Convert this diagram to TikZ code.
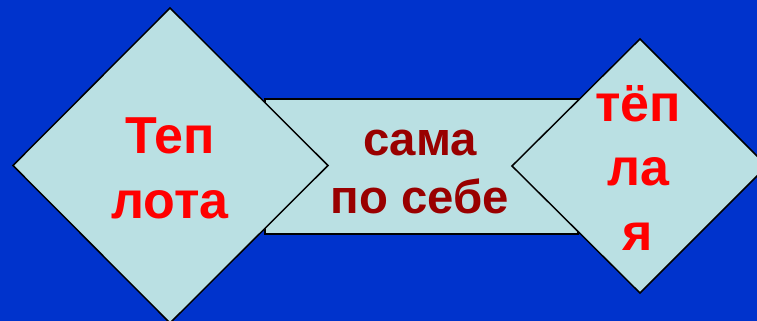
\documentclass[tikz,border=0pt]{standalone}
\usepackage{fontspec}
\setmainfont{Liberation Sans}
\definecolor{bgblue}{RGB}{0,51,204}
\definecolor{boxfill}{RGB}{186,224,227}
\definecolor{wordred}{RGB}{255,0,0}
\definecolor{darkred}{RGB}{153,0,0}

\tikzset{every picture/.style={line width=0.75pt}}

\begin{document}
\begin{tikzpicture}[x=0.75pt,y=0.75pt,yscale=-1,xscale=1,
  shapebox/.style={draw=black,line width=1.1pt,line join=miter,fill=boxfill},
  bigword/.style={font=\fontsize{39}{47}\selectfont\bfseries,text=wordred,inner sep=0pt,anchor=base},
  midword/.style={font=\fontsize{35.5}{43}\selectfont\bfseries,text=darkred,inner sep=0pt,anchor=base}]
\useasboundingbox (0,0) rectangle (757,321);

%Background
\fill[bgblue] (0,0) rectangle (757,321);

%Shape: Rectangle [middle]
\draw[shapebox] (265,99) rectangle (578,234);
%Shape: Diamond [left]
\draw[shapebox] (170,8) -- (328,165.5) -- (170,323) -- (13,165.5) -- cycle;
%Shape: Diamond [right]
\draw[shapebox] (640,39) -- (767,166) -- (640,293) -- (512,166) -- cycle;

%Text [left]
\node[bigword] (tep) at (170,153) {Теп};
\node[bigword] (lota) at (170,218) {лота};
%Text [middle]
\node[midword] (sama) at (420,156) {сама};
\node[midword] (posebe) at (420,213) {по себе};
%Text [right]
\node[bigword] (tyop) at (638,122) {тёп};
\node[bigword] (la) at (638,185) {ла};
\node[bigword] (ya) at (638,250) {я};

\end{tikzpicture}
\end{document}
